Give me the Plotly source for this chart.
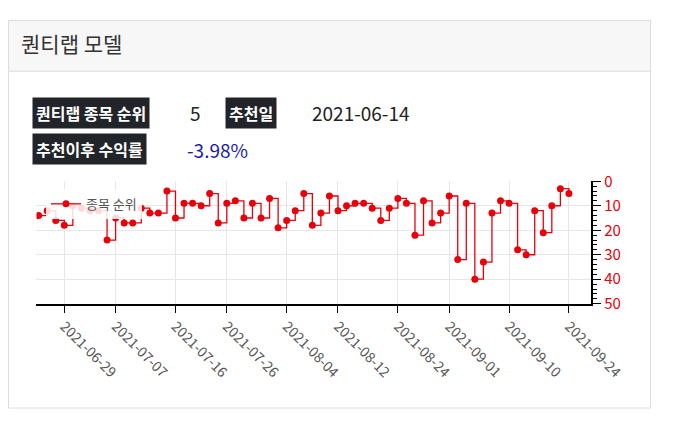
import pandas as pd
import plotly.graph_objects as go

# Korean trading days (holidays 08-16, 09-20..22 excluded)
holidays = ["2021-08-16", "2021-09-20", "2021-09-21", "2021-09-22"]
days = pd.bdate_range("2021-06-24", "2021-09-24")
dates = [d.strftime("%Y-%m-%d") for d in days if d.strftime("%Y-%m-%d") not in holidays]

ranks = [14, 12, 16, 18, 10, 11, 12, 12, 24, 15, 17, 17, 11, 13, 13, 4,
         15, 9, 9, 10, 5, 17, 9, 8, 15, 9, 15, 7, 19, 16, 12, 5, 18, 13, 6, 12,
         10, 9, 9, 11, 16, 11, 7, 9, 22, 8, 17, 13, 6, 32, 9, 40, 33, 13, 8, 9,
         28, 30, 12, 21, 10, 3, 5]

tick_labels = ["2021-06-29", "2021-07-07", "2021-07-16", "2021-07-26", "2021-08-04",
               "2021-08-12", "2021-08-24", "2021-09-01", "2021-09-10", "2021-09-24"]

# page body has an 8px margin, so the figure is 16px smaller than the window
OFF = 8
W, H = 693 - 2 * OFF, 426 - 2 * OFF
def px(x): return (x - OFF) / W
def py(y): return 1 - (y - OFF) / H

fig = go.Figure()
fig.add_trace(go.Scatter(
    x=dates, y=ranks, mode="lines+markers", name="종목 순위",
    line=dict(color="#e8000b", width=1.3, shape="hv"),
    marker=dict(color="#e8000b", size=7),
))

font = "Noto Sans CJK KR"
fig.update_layout(
    width=W, height=H, margin=dict(l=0, r=0, t=0, b=0),
    paper_bgcolor="white", plot_bgcolor="white",
    font=dict(family=font, color="#333"),
    showlegend=True,
    legend=dict(x=px(48), y=py(186), xanchor="left", yanchor="top",
                bgcolor="rgba(255,255,255,0.85)", font=dict(size=13, color="#555")),
    xaxis=dict(domain=[px(38), px(622)], type="category",
               range=[-0.25, len(dates) + 1.6],
               tickvals=tick_labels, ticktext=tick_labels, tickangle=45,
               showgrid=True, gridcolor="#e6e6e6",
               showline=True, linecolor="black", linewidth=2,
               ticks="outside", ticklen=7, tickcolor="black",
               tickfont=dict(size=14, color="#555")),
    yaxis=dict(domain=[py(307), py(178)], range=[50, 0], side="right",
               tickvals=[0, 10, 20, 30, 40, 50], showgrid=True, gridcolor="#e6e6e6",
               zeroline=False, showline=True, linecolor="black", linewidth=2,
               ticks="outside", ticklen=8, tickcolor="black",
               minor=dict(dtick=2, ticks="outside", ticklen=4, tickcolor="black"),
               tickfont=dict(size=15, color="#e8000b")),
)

# card frame and header
fig.add_shape(type="rect", xref="paper", yref="paper", x0=px(8.5), x1=px(684.5), y0=py(417), y1=py(8.5),
              line=dict(color="#dcdcdc", width=1), fillcolor="rgba(0,0,0,0)", layer="below")
fig.add_shape(type="rect", xref="paper", yref="paper", x0=px(8.5), x1=px(684.5), y0=py(62), y1=py(8.5),
              line=dict(color="#dcdcdc", width=1), fillcolor="#f7f7f7", layer="below")

def text(x, y, s, size, color="#222", **kw):
    fig.add_annotation(x=px(x), y=py(y), xref="paper", yref="paper", text=s, showarrow=False,
                       xanchor="left", yanchor="middle", font=dict(size=size, color=color, family=font), **kw)

def badge(x, y, s):
    text(x, y, "<b>" + s + "</b>", 16, "white", bgcolor="#212529", borderpad=3)

text(20, 32, "퀀티랩 모델", 21, "#333")
badge(33, 106, "퀀티랩 종목 순위")
text(198, 106, "5", 19)
badge(237, 106, "추천일")
text(326, 106, "2021-06-14", 19)
badge(33, 144, "추천이후 수익률")
text(194, 144, "-3.98%", 19, "#1a1aa6")

fig.write_html("out.html")
